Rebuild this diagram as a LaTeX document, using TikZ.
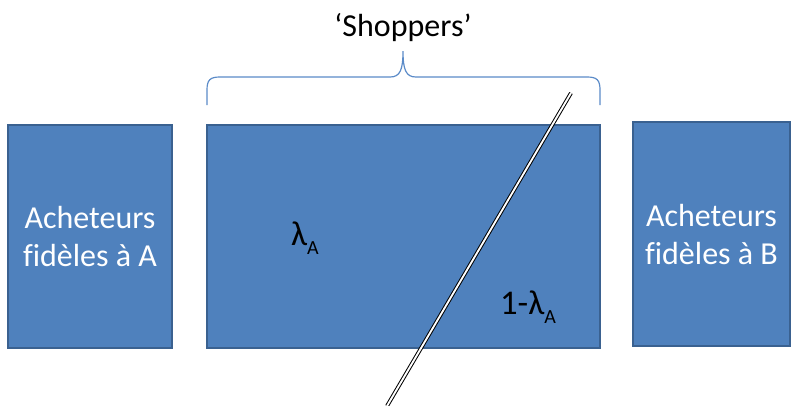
\documentclass[tikz,border=0pt]{standalone}
\usepackage{fontspec}
\setmainfont[Ligatures=NoCommon]{Carlito}
\usetikzlibrary{positioning}
\definecolor{boxblue}{HTML}{4F81BD}
\definecolor{boxedge}{HTML}{3A6190}
\definecolor{bracecol}{HTML}{5B8BC8}
\newcommand{\subA}{\raisebox{-6.5pt}{\fontsize{15}{15}\selectfont A}}

\begin{document}
\begin{tikzpicture}[x=0.75pt, y=-0.75pt,
  group/.style={draw=boxedge, fill=boxblue, line width=1pt, text=white,
                align=center, inner sep=0pt, font=\fontsize{24}{28.5}\selectfont},
  share/.style={inner sep=0pt, font=\fontsize{26}{30}\selectfont},
  brace/.style={draw=bracecol, line width=0.9pt},
  cut/.style={black, line width=0.75pt, double=white, double distance=1.4pt}
]
  \useasboundingbox (0,0) rectangle (791,405);

  \node[group, minimum width=123pt, minimum height=167.25pt] (loyalA) at (90,236.5) {Acheteurs\\fidèles à A};
  \node[group, minimum width=294.75pt, minimum height=167.25pt] (shoppers) at (403.5,236.5) {};
  \node[group, minimum width=117.75pt, minimum height=168pt] (loyalB) at (711.5,234) {Acheteurs\\fidèles à B};

  \node[share] (lam) at (305,238) {λ\subA};
  \node[share] (rest) at (528,307) {1-λ\subA};
  \node[share, font=\fontsize{24}{28}\selectfont] (title) at (403,28) {‘Shoppers’};

  % accolade au-dessus des shoppers
  \draw[brace] (207,105) -- (207,90) .. controls (207,80) and (210,77) .. (220,77)
    -- (390,77) .. controls (400,77) and (403,70) .. (403,51)
    .. controls (403,70) and (406,77) .. (416,77)
    -- (587,77) .. controls (597,77) and (600,80) .. (600,90) -- (600,105);

  \coordinate (cutTop) at (571,93);
  \coordinate (cutBot) at (387,406);
  \draw[cut] (cutTop) -- (cutBot);
\end{tikzpicture}
\end{document}
